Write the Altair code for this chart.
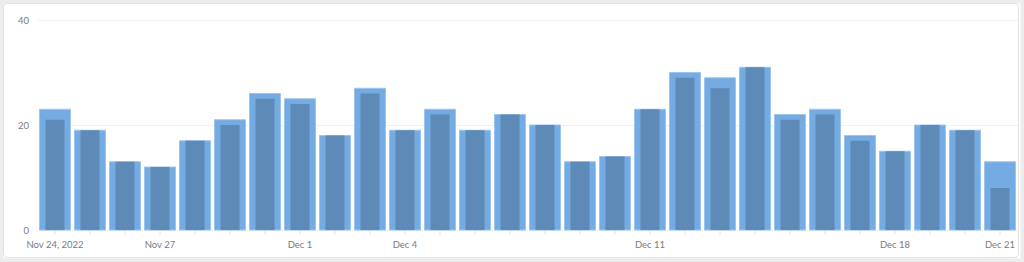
import altair as alt
import pandas as pd

days = [
    "2022-11-24", "2022-11-25", "2022-11-26", "2022-11-27", "2022-11-28", "2022-11-29", "2022-11-30",
    "2022-12-01", "2022-12-02", "2022-12-03", "2022-12-04", "2022-12-05", "2022-12-06", "2022-12-07",
    "2022-12-08", "2022-12-09", "2022-12-10", "2022-12-11", "2022-12-12", "2022-12-13", "2022-12-14",
    "2022-12-15", "2022-12-16", "2022-12-17", "2022-12-18", "2022-12-19", "2022-12-20", "2022-12-21",
]
outer_values = [23, 19, 13, 12, 17, 21, 26, 25, 18, 27, 19, 23, 19, 22,
                20, 13, 14, 23, 30, 29, 31, 22, 23, 18, 15, 20, 19, 13]
inner_values = [21, 19, 13, 12, 17, 20, 25, 24, 18, 26, 19, 22, 19, 22,
                20, 13, 14, 23, 29, 27, 31, 21, 22, 17, 15, 20, 19, 8]
tick_labels = {
    "2022-11-24": "Nov 24, 2022",
    "2022-11-27": "Nov 27",
    "2022-12-01": "Dec 1",
    "2022-12-04": "Dec 4",
    "2022-12-11": "Dec 11",
    "2022-12-18": "Dec 18",
    "2022-12-21": "Dec 21",
}
y_ticks = [0, 20, 40]

df = pd.DataFrame({"day": days, "outer": outer_values, "inner": inner_values})

label_obj = "{" + ",".join(f"'{k}':'{v}'" for k, v in tick_labels.items()) + "}"

FONT = "Lato"
LABEL_COLOR = "#7a7a7a"

x_enc = alt.X(
    "day:O",
    sort=days,
    scale=alt.Scale(paddingInner=0.114, paddingOuter=0.057),
    axis=alt.Axis(
        title=None,
        labelAngle=0,
        labelExpr=f"{label_obj}[datum.value] || ''",
        labelColor=LABEL_COLOR,
        labelFontSize=9.5,
        labelFont=FONT,
        tickColor="#e2e2e2",
        tickSize=4,
        domain=False,
        labelPadding=5,
        labelOverlap=False,
    ),
)

y_scale = alt.Scale(domain=[0, 40], nice=False)

# page frame: grey margin around a white card with a thin border
frame = alt.Chart(alt.Data(values=[{}])).mark_rect(
    fill="transparent", stroke="#ececec", strokeWidth=7
).encode(
    x=alt.value(-37.5), x2=alt.value(986.5), y=alt.value(-20), y2=alt.value(242)
)
card = alt.Chart(alt.Data(values=[{}])).mark_rect(
    fill="transparent", stroke="#e0e0e0", strokeWidth=1, cornerRadius=4
).encode(
    x=alt.value(-34), x2=alt.value(981), y=alt.value(-16.5), y2=alt.value(237.5)
)

outer = alt.Chart(df).mark_bar(
    color="#74abe2", stroke="#9cc4ee", strokeWidth=1
).encode(
    x=x_enc,
    y=alt.Y(
        "outer:Q",
        scale=y_scale,
        axis=alt.Axis(
            title=None,
            values=y_ticks,
            grid=True,
            gridColor="#f0f0f0",
            domain=False,
            ticks=False,
            labelPadding=9,
            labelColor=LABEL_COLOR,
            labelFontSize=9.5,
            labelFont=FONT,
        ),
    ),
)

inner = alt.Chart(df).mark_bar(color="#5d8ab6", size=19).encode(
    x=alt.X("day:O", sort=days),
    y=alt.Y("inner:Q", scale=y_scale),
)

chart = alt.layer(outer, inner, frame, card).properties(
    width=980,
    height=210,
    padding={"left": 37.5, "top": 20, "right": 6.5, "bottom": 32},
    autosize=alt.AutoSizeParams(type="none"),
    background="white",
).configure_view(stroke=None)

chart.save("out.html", embed_options={"renderer": "svg", "actions": False})
